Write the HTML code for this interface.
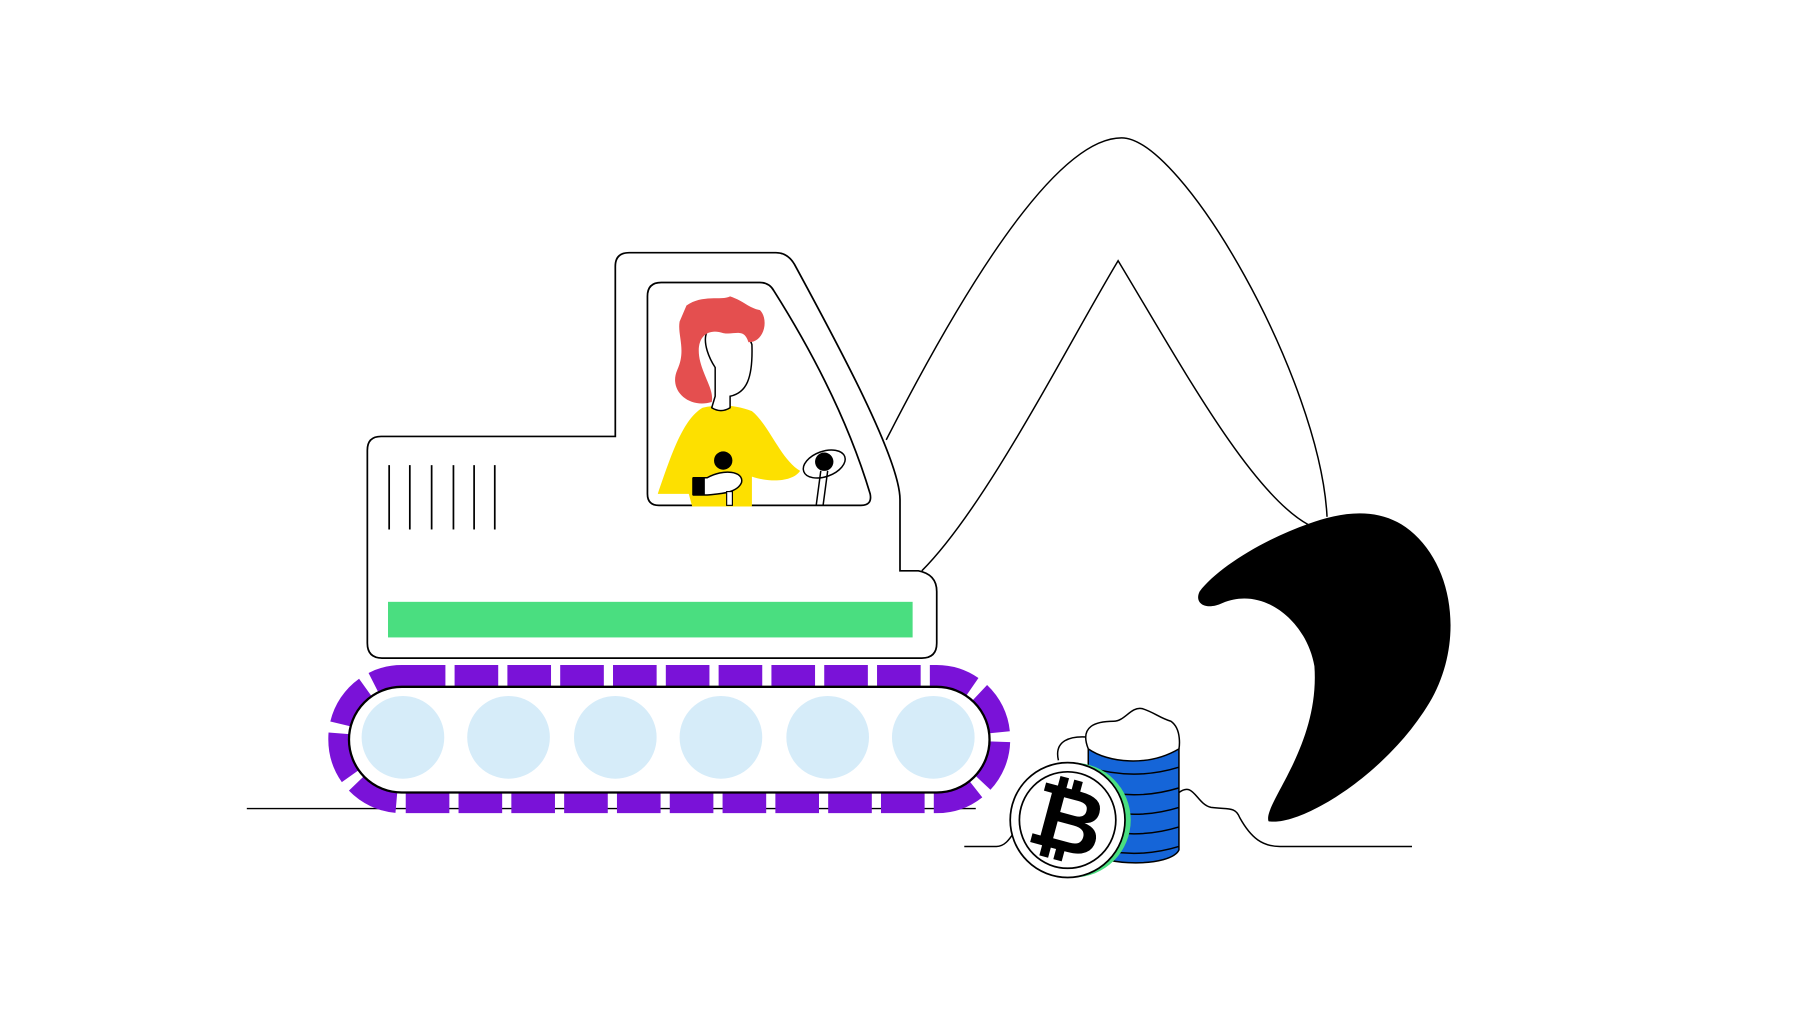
<!DOCTYPE html>
<html><head><meta charset="utf-8"><style>html,body{margin:0;padding:0;background:#fff;}svg{display:block}</style></head>
<body>
<svg width="1800" height="1013" viewBox="0 0 1568 882" preserveAspectRatio="none" xmlns="http://www.w3.org/2000/svg">
<rect width="1568" height="882" fill="#fff"/>
<g fill="none" stroke="#000" stroke-width="1.3">
<path d="M772,383 C840,250 920,120 977,120 C1030,120 1150,330 1156,450" fill="#fff"/>
<path d="M803,497 C860,440 930,300 974,227 C1030,320 1090,430 1140,457"/>
<line x1="215" y1="704" x2="850" y2="704"/>
<path d="M840,737 L868,737 C878,737 882,725 890,716 M922,662 C918,645 932,640 950,642 M1027,690 C1040,680 1042,700 1055,703 C1070,705 1076,702 1080,712 C1090,730 1100,737 1115,737 L1230,737"/>
</g>
<path d="M1140,456 C1170,445 1205,440 1232,465 C1270,500 1275,570 1240,620 C1200,680 1130,720 1105,715 C1100,700 1150,650 1145,580 C1138,540 1100,510 1065,525 C1050,532 1040,525 1045,515 C1060,495 1100,470 1140,456 Z" fill="#000"/>
<path d="M332,380 L536,380 L536,232 Q536,220 548,220 L676,220 Q686,220 692,230 C730,300 784,400 784,435 L784,497 L800,497 Q816,500 816,515 L816,560 Q816,573 803,573 L333,573 Q320,573 320,560 L320,392 Q320,380 332,380 Z" fill="#fff" stroke="#000" stroke-width="1.5"/>
<path d="M576,246 L662,246 Q670,246 674,253 C710,310 740,370 758,430 Q760,440 750,440 L574,440 Q564,440 564,430 L564,258 Q564,246 576,246 Z" fill="#fff" stroke="#000" stroke-width="1.5"/>
<g stroke="#000" stroke-width="1.5">
<line x1="339" y1="405" x2="339" y2="461"/><line x1="357" y1="405" x2="357" y2="461"/><line x1="376" y1="405" x2="376" y2="461"/><line x1="395" y1="405" x2="395" y2="461"/><line x1="413" y1="405" x2="413" y2="461"/><line x1="431" y1="405" x2="431" y2="461"/>
</g>
<rect x="338" y="524" width="457" height="31" fill="#4ade80"/>
<!-- person -->
<path d="M612,355 C595,365 585,395 573,430 L600,430 L603,441 L655,441 L655,415 C670,420 690,420 697,410 C680,400 670,370 655,358 C640,352 625,352 612,355 Z" fill="#fde000"/>
<path d="M623,345 L623,320 C610,300 612,280 628,285 C640,282 652,290 655,300 C656,330 650,342 636,345 L636,355 Q628,360 620,355 Z" fill="#fff" stroke="#000" stroke-width="1.3"/>
<path d="M598,266 C612,256 628,262 636,258 C648,262 652,268 662,270 C670,278 666,298 652,298 C648,285 640,292 630,290 C615,285 605,295 610,315 C614,330 622,340 620,350 C600,356 582,340 590,322 C598,305 590,292 592,280 Z" fill="#e44f4f"/>
<circle cx="630" cy="401" r="8" fill="#000"/>
<path d="M604,416 L616,416 C630,408 648,410 646,420 C642,430 625,430 616,431 L604,431 Z" fill="#fff" stroke="#000" stroke-width="1.3"/>
<rect x="603" y="416" width="11" height="15" fill="#000"/>
<rect x="633" y="428" width="5" height="12" fill="#fff" stroke="#000"/>
<ellipse cx="718" cy="404" rx="19" ry="11" transform="rotate(-20 718 404)" fill="#fff" stroke="#000" stroke-width="1.3"/>
<circle cx="718" cy="402" r="8" fill="#000"/>
<path d="M715,410 L711,440 M721,410 L717,440" stroke="#000" stroke-width="1.3"/>
<!-- track -->
<rect x="297" y="590" width="572" height="107" rx="53" fill="none" stroke="#7a12d8" stroke-width="22" stroke-dasharray="38 8"/>
<rect x="304" y="598" width="558" height="92" rx="46" fill="#fff" stroke="#000" stroke-width="2"/>
<g fill="#d6ecf9">
<circle cx="351" cy="642" r="36"/><circle cx="443" cy="642" r="36"/><circle cx="536" cy="642" r="36"/><circle cx="628" cy="642" r="36"/><circle cx="721" cy="642" r="36"/><circle cx="813" cy="642" r="36"/>
</g>
<!-- coin stack -->
<path d="M948,652 L948,740 C960,755 1020,755 1027,740 L1027,652 Z" fill="#1565d8" stroke="#000" stroke-width="1.3"/>
<g fill="none" stroke="#000" stroke-width="1.3">
<path d="M948,668 Q988,680 1027,668"/><path d="M948,686 Q988,698 1027,686"/><path d="M948,703 Q988,715 1027,703"/><path d="M948,720 Q988,732 1027,720"/><path d="M948,737 Q988,749 1027,737"/>
</g>
<path d="M948,652 C940,632 955,628 970,628 C980,628 985,615 995,617 C1005,620 1010,625 1020,628 C1030,635 1027,652 1027,652 C1000,668 965,664 948,652 Z" fill="#fff" stroke="#000" stroke-width="1.3"/>
<circle cx="935" cy="714" r="50" fill="#4ade80"/>
<circle cx="930" cy="714" r="50" fill="#fff" stroke="#000" stroke-width="1.5"/>
<circle cx="930" cy="714" r="42" fill="none" stroke="#000" stroke-width="1.5"/>
<text x="930" y="741" text-anchor="middle" font-family="Liberation Sans, sans-serif" font-weight="bold" font-size="78" transform="rotate(15 930 714)">₿</text>
</svg>
</body></html>
